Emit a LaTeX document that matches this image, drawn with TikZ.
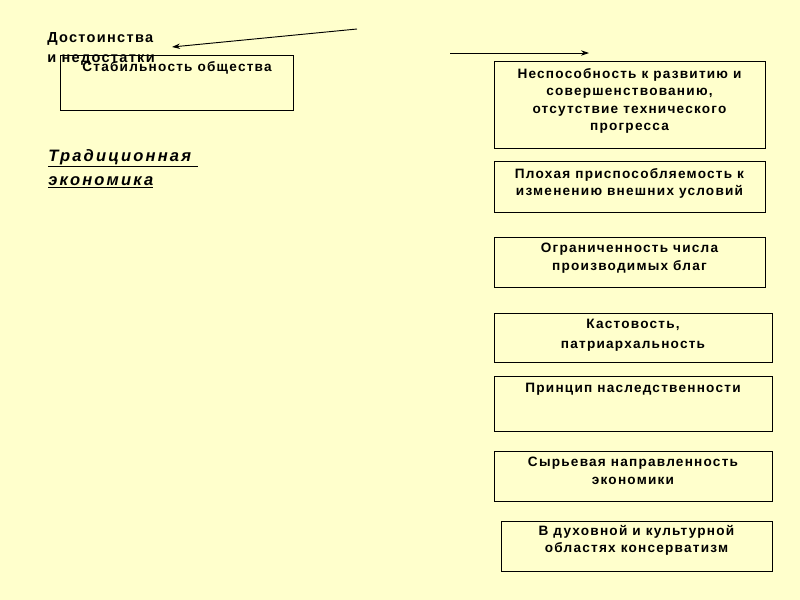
\documentclass[tikz,border=0pt]{standalone}
\usepackage{fontspec}
\setmainfont{Liberation Sans}
\newfontfamily\slidefont[LetterSpace=9]{Liberation Sans}
\newfontfamily\titlefont[LetterSpace=13]{Liberation Sans}
\usepackage{xcolor}
\usetikzlibrary{arrows.meta, positioning}
\definecolor{TEPaper}{RGB}{255,255,204}
\definecolor{TEInk}{RGB}{0,0,0}

\begin{document}
\begin{tikzpicture}[x=0.75pt,y=-0.75pt,
  boxtext/.style={anchor=north, align=center, inner sep=0pt, text=TEInk,
    font=\slidefont\fontsize{10.2}{13.1}\selectfont\bfseries},
  cardframe/.style={draw=TEInk, line width=0.75pt},
  pointer/.style={draw=TEInk, line width=0.7pt, -{Stealth[length=6pt,width=4pt]}}]
  \path[use as bounding box] (0,0) rectangle (800,600);

  % Paper
  \fill[TEPaper] (0,0) rectangle (800,600);

  % Heading and title
  \node[anchor=north west, align=left, inner sep=0pt, font=\slidefont\fontsize{10.9}{15}\selectfont\bfseries]
    (heading) at (47,32) {Достоинства\\и недостатки};
  \node[anchor=north west, align=left, inner sep=0pt, font=\titlefont\fontsize{12.4}{18}\selectfont\bfseries\itshape]
    (tradition) at (48,149) {\underline{Традиционная\ }\\\underline{экономика}};

  % Advantage card
  \draw[cardframe] (60,55) rectangle (293,110);
  \node[boxtext] (stab) at (177,61) {Стабильность общества};

  % Pointers
  \coordinate (leftfrom) at (357,29);
  \coordinate (leftto) at (172,47);
  \coordinate (rightfrom) at (450,53);
  \coordinate (rightto) at (589,53);
  \draw[pointer] (leftfrom) -- (leftto);
  \draw[pointer] (rightfrom) -- (rightto);

  % Disadvantage cards
  \foreach \i/\xa/\xb/\ya/\yb/\ty/\txt in {
    1/494/765/61/148/68/{Неспособность к развитию и\\совершенствованию,\\отсутствие технического\\прогресса},
    2/494/765/161/212/168/{Плохая приспособляемость к\\изменению внешних условий},
    3/494/765/237/287/243/{Ограниченность числа\\производимых благ},
    4/494/772/313/362/319/{Кастовость,\\[2pt]патриархальность},
    5/494/772/376/431/383/{Принцип наследственности},
    6/494/772/451/501/457/{Сырьевая направленность\\экономики},
    7/501/772/521/571/525/{В духовной и культурной\\областях консерватизм}}{
    \draw[cardframe] (\xa,\ya) rectangle (\xb,\yb);
    \node[boxtext] (flaw\i) at ({(\xa+\xb)/2},\ty) {\txt};
  }
\end{tikzpicture}
\end{document}
